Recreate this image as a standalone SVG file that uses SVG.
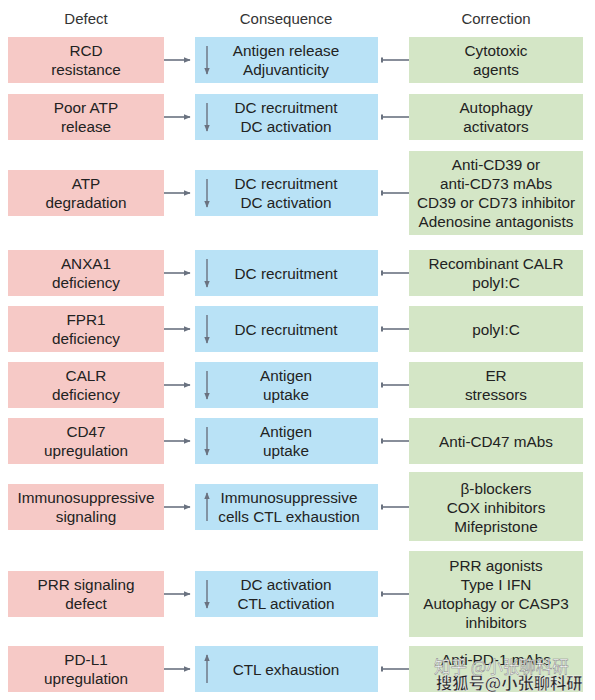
<svg xmlns="http://www.w3.org/2000/svg" width="595" height="700" viewBox="0 0 595 700">
<defs>
<style>
text{font-family:"Liberation Sans",Arial,sans-serif;font-size:15.3px;fill:#222;text-anchor:middle}
.hd{font-size:15px;fill:#333}
.d{fill:#f6c9c6}
.c{fill:#b9e2f6}
.r{fill:#d4e6c6}
.ln{stroke:#6a7280;stroke-width:1.6;fill:none}
.ar{stroke:#6a7280;stroke-width:1.4;fill:none}
.wm1{font-family:"Noto Sans CJK SC",sans-serif;font-size:16.5px;fill:#fff;stroke:#888;stroke-width:0.5;text-anchor:start}
.wm2{font-family:"Noto Sans CJK SC",sans-serif;font-size:16.3px;fill:#222;stroke:#fff;stroke-width:0.4;text-anchor:start;font-weight:bold}
</style>
<marker id="ah" viewBox="0 0 10 10" refX="9" refY="5" markerWidth="7" markerHeight="7" markerUnits="userSpaceOnUse" orient="auto"><path d="M0,1 L10,5 L0,9 z" fill="#6a7280"/></marker>
<marker id="bar" viewBox="0 0 4 10" refX="2" refY="5" markerWidth="2" markerHeight="9" markerUnits="userSpaceOnUse" orient="auto"><rect x="0" y="0" width="4" height="10" fill="#6a7280"/></marker>
</defs>
<rect width="595" height="700" fill="#fff"/>
<g id="headers">
<text class="hd" x="86" y="24">Defect</text>
<text class="hd" x="286" y="24">Consequence</text>
<text class="hd" x="496" y="24">Correction</text>
</g>

<g id="connectors">
<line class="ln" x1="164" y1="60" x2="190" y2="60" marker-end="url(#ah)"/>
<line class="ln" x1="409" y1="60" x2="382" y2="60" marker-end="url(#bar)"/>
<line class="ln" x1="164" y1="117" x2="190" y2="117" marker-end="url(#ah)"/>
<line class="ln" x1="409" y1="117" x2="382" y2="117" marker-end="url(#bar)"/>
<line class="ln" x1="164" y1="193" x2="190" y2="193" marker-end="url(#ah)"/>
<line class="ln" x1="409" y1="193" x2="382" y2="193" marker-end="url(#bar)"/>
<line class="ln" x1="164" y1="273" x2="190" y2="273" marker-end="url(#ah)"/>
<line class="ln" x1="409" y1="273" x2="382" y2="273" marker-end="url(#bar)"/>
<line class="ln" x1="164" y1="329" x2="190" y2="329" marker-end="url(#ah)"/>
<line class="ln" x1="409" y1="329" x2="382" y2="329" marker-end="url(#bar)"/>
<line class="ln" x1="164" y1="385" x2="190" y2="385" marker-end="url(#ah)"/>
<line class="ln" x1="409" y1="385" x2="382" y2="385" marker-end="url(#bar)"/>
<line class="ln" x1="164" y1="441" x2="190" y2="441" marker-end="url(#ah)"/>
<line class="ln" x1="409" y1="441" x2="382" y2="441" marker-end="url(#bar)"/>
<line class="ln" x1="164" y1="507" x2="190" y2="507" marker-end="url(#ah)"/>
<line class="ln" x1="409" y1="507" x2="382" y2="507" marker-end="url(#bar)"/>
<line class="ln" x1="164" y1="594" x2="190" y2="594" marker-end="url(#ah)"/>
<line class="ln" x1="409" y1="594" x2="382" y2="594" marker-end="url(#bar)"/>
<line class="ln" x1="164" y1="669" x2="190" y2="669" marker-end="url(#ah)"/>
<line class="ln" x1="409" y1="669" x2="382" y2="669" marker-end="url(#bar)"/>
</g>

<!-- Row 1 -->
<g id="defect1"><rect class="d" x="8" y="37" width="156" height="46"/><text x="86" y="56">RCD</text><text x="86" y="75">resistance</text></g>
<g id="cons1"><rect class="c" x="195" y="37" width="183" height="46"/><line class="ar" x1="207" y1="46" x2="207" y2="74" marker-end="url(#ah)"/><text x="286" y="56">Antigen release</text><text x="286" y="75">Adjuvanticity</text></g>
<g id="corr1"><rect class="r" x="409" y="37" width="174" height="46"/><text x="496" y="56">Cytotoxic</text><text x="496" y="75">agents</text></g>

<!-- Row 2 -->
<g id="defect2"><rect class="d" x="8" y="94" width="156" height="46"/><text x="86" y="113">Poor ATP</text><text x="86" y="132">release</text></g>
<g id="cons2"><rect class="c" x="195" y="94" width="183" height="46"/><line class="ar" x1="207" y1="103" x2="207" y2="131" marker-end="url(#ah)"/><text x="286" y="113">DC recruitment</text><text x="286" y="132">DC activation</text></g>
<g id="corr2"><rect class="r" x="409" y="94" width="174" height="46"/><text x="496" y="113">Autophagy</text><text x="496" y="132">activators</text></g>

<!-- Row 3 -->
<g id="defect3"><rect class="d" x="8" y="170" width="156" height="46"/><text x="86" y="189">ATP</text><text x="86" y="208">degradation</text></g>
<g id="cons3"><rect class="c" x="195" y="170" width="183" height="46"/><line class="ar" x1="207" y1="179" x2="207" y2="207" marker-end="url(#ah)"/><text x="286" y="189">DC recruitment</text><text x="286" y="208">DC activation</text></g>
<g id="corr3"><rect class="r" x="409" y="151" width="174" height="84"/><text x="496" y="170">Anti-CD39 or</text><text x="496" y="189">anti-CD73 mAbs</text><text x="496" y="208">CD39 or CD73 inhibitor</text><text x="496" y="227">Adenosine antagonists</text></g>

<!-- Row 4 -->
<g id="defect4"><rect class="d" x="8" y="250" width="156" height="46"/><text x="86" y="269">ANXA1</text><text x="86" y="288">deficiency</text></g>
<g id="cons4"><rect class="c" x="195" y="250" width="183" height="46"/><line class="ar" x1="207" y1="259" x2="207" y2="287" marker-end="url(#ah)"/><text x="286" y="278.5">DC recruitment</text></g>
<g id="corr4"><rect class="r" x="409" y="250" width="174" height="46"/><text x="496" y="269">Recombinant CALR</text><text x="496" y="288">polyI:C</text></g>

<!-- Row 5 -->
<g id="defect5"><rect class="d" x="8" y="306" width="156" height="46"/><text x="86" y="325">FPR1</text><text x="86" y="344">deficiency</text></g>
<g id="cons5"><rect class="c" x="195" y="306" width="183" height="46"/><line class="ar" x1="207" y1="315" x2="207" y2="343" marker-end="url(#ah)"/><text x="286" y="334.5">DC recruitment</text></g>
<g id="corr5"><rect class="r" x="409" y="306" width="174" height="46"/><text x="496" y="334.5">polyI:C</text></g>

<!-- Row 6 -->
<g id="defect6"><rect class="d" x="8" y="362" width="156" height="46"/><text x="86" y="381">CALR</text><text x="86" y="400">deficiency</text></g>
<g id="cons6"><rect class="c" x="195" y="362" width="183" height="46"/><line class="ar" x1="207" y1="371" x2="207" y2="399" marker-end="url(#ah)"/><text x="286" y="381">Antigen</text><text x="286" y="400">uptake</text></g>
<g id="corr6"><rect class="r" x="409" y="362" width="174" height="46"/><text x="496" y="381">ER</text><text x="496" y="400">stressors</text></g>

<!-- Row 7 -->
<g id="defect7"><rect class="d" x="8" y="418" width="156" height="46"/><text x="86" y="437">CD47</text><text x="86" y="456">upregulation</text></g>
<g id="cons7"><rect class="c" x="195" y="418" width="183" height="46"/><line class="ar" x1="207" y1="427" x2="207" y2="455" marker-end="url(#ah)"/><text x="286" y="437">Antigen</text><text x="286" y="456">uptake</text></g>
<g id="corr7"><rect class="r" x="409" y="418" width="174" height="46"/><text x="496" y="446.5">Anti-CD47 mAbs</text></g>

<!-- Row 8 -->
<g id="defect8"><rect class="d" x="8" y="484" width="156" height="46"/><text x="86" y="503">Immunosuppressive</text><text x="86" y="522">signaling</text></g>
<g id="cons8"><rect class="c" x="195" y="484" width="183" height="46"/><line class="ar" x1="207" y1="521" x2="207" y2="493" marker-end="url(#ah)"/><text x="289" y="503">Immunosuppressive</text><text x="289" y="522">cells CTL exhaustion</text></g>
<g id="corr8"><rect class="r" x="409" y="472" width="174" height="69"/><text x="496" y="493.5">β-blockers</text><text x="496" y="512.5">COX inhibitors</text><text x="496" y="531.5">Mifepristone</text></g>

<!-- Row 9 -->
<g id="defect9"><rect class="d" x="8" y="571" width="156" height="46"/><text x="86" y="590">PRR signaling</text><text x="86" y="609">defect</text></g>
<g id="cons9"><rect class="c" x="195" y="571" width="183" height="46"/><line class="ar" x1="207" y1="580" x2="207" y2="608" marker-end="url(#ah)"/><text x="286" y="590">DC activation</text><text x="286" y="609">CTL activation</text></g>
<g id="corr9"><rect class="r" x="409" y="551" width="174" height="86"/><text x="496" y="571">PRR agonists</text><text x="496" y="590">Type I IFN</text><text x="496" y="609">Autophagy or CASP3</text><text x="496" y="628">inhibitors</text></g>

<!-- Row 10 -->
<g id="defect10"><rect class="d" x="8" y="646" width="156" height="46"/><text x="86" y="665">PD-L1</text><text x="86" y="684">upregulation</text></g>
<g id="cons10"><rect class="c" x="195" y="646" width="183" height="46"/><line class="ar" x1="207" y1="683" x2="207" y2="655" marker-end="url(#ah)"/><text x="286" y="674.5">CTL exhaustion</text></g>
<g id="corr10"><rect class="r" x="409" y="646" width="174" height="46"/><text x="496" y="665">Anti-PD-1 mAbs</text></g>

<g id="watermark">
<text class="wm1" x="434" y="673">知乎 @小张聊科研</text>
<text class="wm2" x="436" y="689">搜狐号@小张聊科研</text>
</g>
</svg>
